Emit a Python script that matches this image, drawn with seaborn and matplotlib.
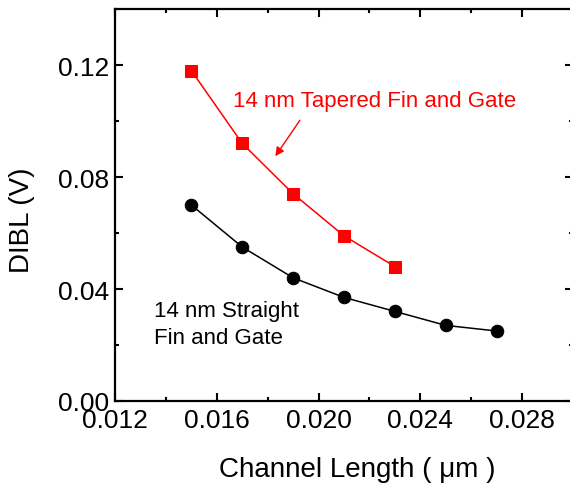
import matplotlib
matplotlib.use('Agg')
import matplotlib.pyplot as plt
import seaborn as sns
from matplotlib.ticker import MultipleLocator

# Data
channel_length = [0.015, 0.017, 0.019, 0.021, 0.023, 0.025, 0.027]
tapered_dibl = [0.118, 0.092, 0.074, 0.059, 0.048]
straight_dibl = [0.070, 0.055, 0.044, 0.037, 0.032, 0.027, 0.025]

sns.set_style('ticks')
plt.rcParams['font.family'] = ['Liberation Sans', 'DejaVu Sans']
plt.rcParams.update({'text.color': 'black', 'axes.labelcolor': 'black',
                     'xtick.color': 'black', 'ytick.color': 'black',
                     'axes.edgecolor': 'black'})

fig = plt.figure(figsize=(5.7, 4.89), dpi=100)
ax = fig.add_axes([115 / 570, 87 / 489, 458 / 570, 392 / 489])

sns.lineplot(x=channel_length[:len(tapered_dibl)], y=tapered_dibl, ax=ax,
             color='#ff0000', marker='s', markersize=8, markeredgecolor='#ff0000',
             linewidth=1.1)
sns.lineplot(x=channel_length, y=straight_dibl, ax=ax,
             color='black', marker='o', markersize=9, markeredgecolor='black',
             linewidth=1.1)

ax.set_xlim(0.012, 0.030)
ax.set_ylim(0.0, 0.14)
ax.xaxis.set_major_locator(MultipleLocator(0.004))
ax.xaxis.set_minor_locator(MultipleLocator(0.002))
ax.yaxis.set_major_locator(MultipleLocator(0.04))
ax.yaxis.set_minor_locator(MultipleLocator(0.02))
ax.xaxis.set_major_formatter(matplotlib.ticker.FormatStrFormatter('%.3f'))
ax.yaxis.set_major_formatter(matplotlib.ticker.FormatStrFormatter('%.2f'))

ax.tick_params(which='both', direction='in', top=True, right=True, width=1.5)
ax.tick_params(which='major', length=6, labelsize=19, pad=5)
ax.tick_params(axis='y', which='major', pad=4)
ax.tick_params(which='minor', length=3)
for s in ax.spines.values():
    s.set_linewidth(1.6)

ax.set_xlabel('Channel Length ( \u03bcm )', fontsize=20)
ax.set_ylabel('DIBL (V)', fontsize=20)
ax.xaxis.set_label_coords(0.528, -0.173)
ax.xaxis.label.set_va('center')
ax.yaxis.set_label_coords(-0.203, 0.464)
ax.yaxis.label.set_va('center')

ax.annotate('', xy=(0.01824, 0.0866), xytext=(0.01933, 0.1011),
            arrowprops=dict(arrowstyle='-|>', color='#ff0000', lw=1.0, mutation_scale=13))
ax.text(0.01663, 0.1075, '14 nm Tapered Fin and Gate', color='#ff0000',
        fontsize=16, va='center', ha='left')
ax.text(0.01353, 0.0275, '14 nm Straight\nFin and Gate', color='black',
        fontsize=16, va='center', ha='left', linespacing=1.35)

plt.savefig('out.png', dpi=100)
